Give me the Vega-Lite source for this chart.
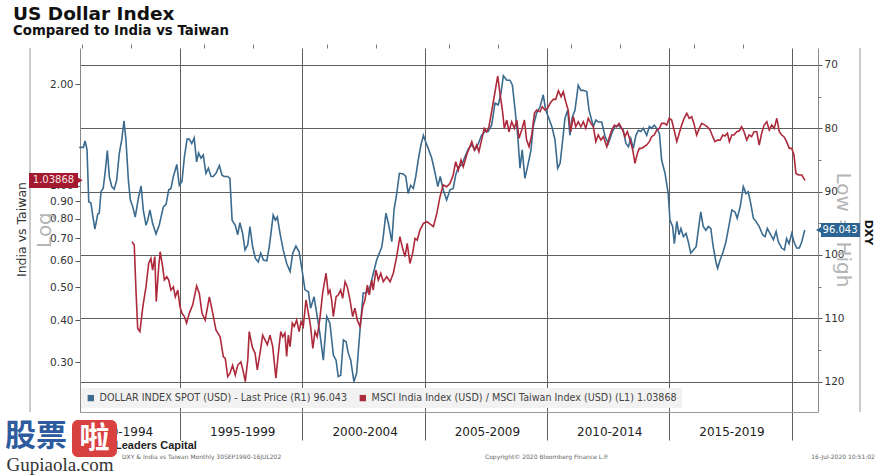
{
  "$schema": "https://vega.github.io/schema/vega-lite/v6.json",
  "width": 738,
  "height": 364,
  "autosize": {"type": "none"},
  "padding": {"left": 80, "top": 48, "right": 72, "bottom": 64},
  "background": "#ffffff",
  "config": {
    "font": "DejaVu Sans",
    "view": {"stroke": null},
    "axis": {"labelFont": "DejaVu Sans", "titleFont": "DejaVu Sans"}
  },
  "title": {
    "text": "US Dollar Index",
    "subtitle": "Compared to India vs Taiwan",
    "anchor": "start",
    "frame": "group",
    "dx": -67,
    "offset": 6,
    "font": "DejaVu Sans",
    "fontSize": 18.5,
    "fontWeight": "bold",
    "color": "#111111",
    "subtitleFont": "DejaVu Sans",
    "subtitleFontSize": 13.3,
    "subtitleFontWeight": "bold",
    "subtitleColor": "#111111",
    "subtitlePadding": 1
  },
  "datasets": {
    "dxy": [
      {"t":1990.88,"dxy":83.0},{"t":1991.05,"dxy":83.0},{"t":1991.12,"dxy":82.0},{"t":1991.20,"dxy":83.4},{"t":1991.27,"dxy":91.6},{"t":1991.36,"dxy":91.8},{"t":1991.43,"dxy":93.7},{"t":1991.52,"dxy":95.9},{"t":1991.64,"dxy":93.5},{"t":1991.70,"dxy":93.4},{"t":1991.77,"dxy":90.0},{"t":1991.86,"dxy":89.5},{"t":1991.95,"dxy":86.6},{"t":1992.03,"dxy":83.5},{"t":1992.11,"dxy":87.6},{"t":1992.21,"dxy":89.2},{"t":1992.31,"dxy":89.6},{"t":1992.41,"dxy":88.2},{"t":1992.52,"dxy":83.9},{"t":1992.62,"dxy":81.8},{"t":1992.71,"dxy":78.8},{"t":1992.79,"dxy":81.8},{"t":1992.89,"dxy":88.2},{"t":1992.97,"dxy":91.3},{"t":1993.07,"dxy":92.4},{"t":1993.17,"dxy":94.0},{"t":1993.31,"dxy":90.8},{"t":1993.41,"dxy":89.1},{"t":1993.50,"dxy":92.9},{"t":1993.61,"dxy":95.3},{"t":1993.68,"dxy":94.5},{"t":1993.77,"dxy":92.9},{"t":1993.88,"dxy":95.0},{"t":1994.02,"dxy":96.7},{"t":1994.15,"dxy":95.3},{"t":1994.32,"dxy":92.4},{"t":1994.43,"dxy":92.0},{"t":1994.54,"dxy":89.7},{"t":1994.63,"dxy":89.5},{"t":1994.73,"dxy":87.6},{"t":1994.87,"dxy":85.7},{"t":1994.97,"dxy":89.0},
      {"t":1995.08,"dxy":88.4},{"t":1995.18,"dxy":84.5},{"t":1995.29,"dxy":81.7},{"t":1995.38,"dxy":81.7},{"t":1995.48,"dxy":82.4},{"t":1995.58,"dxy":81.5},{"t":1995.68,"dxy":85.3},{"t":1995.76,"dxy":83.9},{"t":1995.86,"dxy":84.7},{"t":1995.95,"dxy":84.2},{"t":1996.06,"dxy":87.1},{"t":1996.16,"dxy":86.3},{"t":1996.27,"dxy":87.6},{"t":1996.36,"dxy":87.6},{"t":1996.47,"dxy":87.1},{"t":1996.61,"dxy":85.9},{"t":1996.72,"dxy":87.4},{"t":1996.81,"dxy":87.6},{"t":1996.95,"dxy":87.6},{"t":1997.04,"dxy":87.9},{"t":1997.13,"dxy":94.5},{"t":1997.26,"dxy":95.3},{"t":1997.36,"dxy":96.8},{"t":1997.45,"dxy":94.9},{"t":1997.56,"dxy":96.6},{"t":1997.66,"dxy":99.2},{"t":1997.77,"dxy":98.4},{"t":1997.86,"dxy":95.5},{"t":1997.97,"dxy":98.7},{"t":1998.08,"dxy":100.5},{"t":1998.20,"dxy":101.1},{"t":1998.30,"dxy":99.7},{"t":1998.41,"dxy":100.8},{"t":1998.55,"dxy":100.9},{"t":1998.65,"dxy":98.7},{"t":1998.81,"dxy":93.7},{"t":1998.90,"dxy":94.5},{"t":1998.98,"dxy":94.0},{"t":1999.09,"dxy":96.6},{"t":1999.22,"dxy":99.2},{"t":1999.36,"dxy":101.3},{"t":1999.50,"dxy":102.6},{"t":1999.61,"dxy":99.7},{"t":1999.74,"dxy":98.6},{"t":1999.87,"dxy":99.5},{"t":1999.98,"dxy":102.1},
      {"t":2000.11,"dxy":105.5},{"t":2000.25,"dxy":105.8},{"t":2000.34,"dxy":108.4},{"t":2000.48,"dxy":106.6},{"t":2000.59,"dxy":109.2},{"t":2000.72,"dxy":112.4},{"t":2000.86,"dxy":116.6},{"t":2001.00,"dxy":109.7},{"t":2001.13,"dxy":110.8},{"t":2001.27,"dxy":115.8},{"t":2001.38,"dxy":116.6},{"t":2001.47,"dxy":119.2},{"t":2001.57,"dxy":119.0},{"t":2001.68,"dxy":113.4},{"t":2001.79,"dxy":113.7},{"t":2001.88,"dxy":115.5},{"t":2001.98,"dxy":116.6},{"t":2002.11,"dxy":120.0},{"t":2002.22,"dxy":118.7},{"t":2002.36,"dxy":111.8},{"t":2002.49,"dxy":106.0},{"t":2002.63,"dxy":106.0},{"t":2002.77,"dxy":105.0},{"t":2003.04,"dxy":100.8},{"t":2003.25,"dxy":98.7},{"t":2003.31,"dxy":97.1},{"t":2003.42,"dxy":93.4},{"t":2003.52,"dxy":95.0},{"t":2003.66,"dxy":97.9},{"t":2003.75,"dxy":92.9},{"t":2003.86,"dxy":90.3},{"t":2003.97,"dxy":87.1},{"t":2004.13,"dxy":87.2},{"t":2004.23,"dxy":87.6},{"t":2004.33,"dxy":90.3},{"t":2004.43,"dxy":89.0},{"t":2004.54,"dxy":89.5},{"t":2004.64,"dxy":87.6},{"t":2004.74,"dxy":85.0},{"t":2004.85,"dxy":82.6},{"t":2004.95,"dxy":81.1},
      {"t":2005.05,"dxy":82.2},{"t":2005.15,"dxy":83.2},{"t":2005.29,"dxy":84.7},{"t":2005.43,"dxy":87.1},{"t":2005.54,"dxy":89.2},{"t":2005.64,"dxy":87.6},{"t":2005.76,"dxy":89.7},{"t":2005.90,"dxy":91.3},{"t":2006.04,"dxy":89.7},{"t":2006.17,"dxy":89.5},{"t":2006.27,"dxy":87.4},{"t":2006.38,"dxy":86.1},{"t":2006.52,"dxy":85.8},{"t":2006.65,"dxy":84.5},{"t":2006.79,"dxy":83.2},{"t":2006.93,"dxy":82.6},{"t":2007.06,"dxy":83.4},{"t":2007.20,"dxy":82.4},{"t":2007.33,"dxy":81.1},{"t":2007.47,"dxy":80.5},{"t":2007.60,"dxy":80.5},{"t":2007.74,"dxy":79.5},{"t":2007.88,"dxy":76.0},{"t":2008.01,"dxy":76.3},{"t":2008.12,"dxy":74.5},{"t":2008.22,"dxy":71.7},{"t":2008.36,"dxy":72.4},{"t":2008.49,"dxy":72.4},{"t":2008.59,"dxy":73.2},{"t":2008.70,"dxy":77.1},{"t":2008.81,"dxy":81.3},{"t":2008.90,"dxy":86.3},{"t":2008.99,"dxy":83.4},{"t":2009.10,"dxy":87.9},{"t":2009.24,"dxy":85.5},{"t":2009.35,"dxy":83.4},{"t":2009.44,"dxy":79.7},{"t":2009.58,"dxy":77.6},{"t":2009.72,"dxy":76.6},{"t":2009.85,"dxy":74.7},{"t":2009.95,"dxy":77.1},
      {"t":2010.06,"dxy":78.2},{"t":2010.20,"dxy":79.7},{"t":2010.33,"dxy":81.8},{"t":2010.44,"dxy":86.3},{"t":2010.54,"dxy":85.5},{"t":2010.63,"dxy":82.4},{"t":2010.74,"dxy":78.4},{"t":2010.85,"dxy":77.1},{"t":2010.94,"dxy":81.1},{"t":2011.04,"dxy":78.2},{"t":2011.15,"dxy":77.1},{"t":2011.28,"dxy":73.2},{"t":2011.39,"dxy":74.0},{"t":2011.49,"dxy":74.0},{"t":2011.63,"dxy":74.2},{"t":2011.72,"dxy":77.1},{"t":2011.83,"dxy":78.7},{"t":2011.90,"dxy":79.7},{"t":2012.00,"dxy":78.7},{"t":2012.10,"dxy":79.0},{"t":2012.24,"dxy":79.0},{"t":2012.38,"dxy":81.3},{"t":2012.51,"dxy":82.4},{"t":2012.65,"dxy":80.8},{"t":2012.78,"dxy":79.7},{"t":2012.92,"dxy":79.5},{"t":2013.12,"dxy":80.3},{"t":2013.23,"dxy":82.4},{"t":2013.33,"dxy":82.9},{"t":2013.43,"dxy":81.6},{"t":2013.53,"dxy":83.2},{"t":2013.64,"dxy":81.1},{"t":2013.74,"dxy":80.3},{"t":2013.84,"dxy":80.5},{"t":2013.94,"dxy":80.0},{"t":2014.08,"dxy":81.1},{"t":2014.19,"dxy":79.7},{"t":2014.28,"dxy":80.0},{"t":2014.39,"dxy":79.5},{"t":2014.49,"dxy":80.0},{"t":2014.60,"dxy":80.8},{"t":2014.69,"dxy":85.0},{"t":2014.83,"dxy":87.1},{"t":2014.96,"dxy":90.3},
      {"t":2015.03,"dxy":94.5},{"t":2015.14,"dxy":95.5},{"t":2015.21,"dxy":98.2},{"t":2015.31,"dxy":94.7},{"t":2015.40,"dxy":96.8},{"t":2015.48,"dxy":95.8},{"t":2015.58,"dxy":97.1},{"t":2015.69,"dxy":96.6},{"t":2015.78,"dxy":97.9},{"t":2015.88,"dxy":99.7},{"t":2015.99,"dxy":99.2},{"t":2016.10,"dxy":98.7},{"t":2016.19,"dxy":96.1},{"t":2016.29,"dxy":93.2},{"t":2016.39,"dxy":95.5},{"t":2016.50,"dxy":96.1},{"t":2016.60,"dxy":95.5},{"t":2016.70,"dxy":95.8},{"t":2016.80,"dxy":98.7},{"t":2016.91,"dxy":101.1},{"t":2016.98,"dxy":102.1},{"t":2017.08,"dxy":100.8},{"t":2017.19,"dxy":99.7},{"t":2017.32,"dxy":97.9},{"t":2017.46,"dxy":95.0},{"t":2017.56,"dxy":92.9},{"t":2017.69,"dxy":93.2},{"t":2017.78,"dxy":94.2},{"t":2017.90,"dxy":92.4},{"t":2018.03,"dxy":89.2},{"t":2018.14,"dxy":90.3},{"t":2018.23,"dxy":90.0},{"t":2018.33,"dxy":91.8},{"t":2018.44,"dxy":94.2},{"t":2018.55,"dxy":94.7},{"t":2018.68,"dxy":95.5},{"t":2018.82,"dxy":96.8},{"t":2018.92,"dxy":97.1},{"t":2019.01,"dxy":95.8},{"t":2019.12,"dxy":96.6},{"t":2019.26,"dxy":97.6},{"t":2019.37,"dxy":96.3},{"t":2019.46,"dxy":97.9},{"t":2019.60,"dxy":98.9},{"t":2019.71,"dxy":99.2},{"t":2019.80,"dxy":97.4},{"t":2019.90,"dxy":98.2},{"t":2020.01,"dxy":96.6},{"t":2020.10,"dxy":97.9},{"t":2020.21,"dxy":98.9},{"t":2020.32,"dxy":98.9},{"t":2020.42,"dxy":97.9},{"t":2020.54,"dxy":96.043}
    ],
    "ratio": [
      {"t":1993.04,"ratio":0.683},{"t":1993.13,"ratio":0.668},{"t":1993.20,"ratio":0.491},{"t":1993.27,"ratio":0.378},{"t":1993.36,"ratio":0.370},{"t":1993.48,"ratio":0.438},{"t":1993.61,"ratio":0.502},{"t":1993.72,"ratio":0.589},{"t":1993.81,"ratio":0.610},{"t":1993.88,"ratio":0.563},{"t":1993.97,"ratio":0.617},{"t":1994.03,"ratio":0.454},{"t":1994.13,"ratio":0.576},{"t":1994.19,"ratio":0.638},{"t":1994.29,"ratio":0.576},{"t":1994.36,"ratio":0.526},{"t":1994.46,"ratio":0.538},{"t":1994.54,"ratio":0.526},{"t":1994.63,"ratio":0.491},{"t":1994.73,"ratio":0.502},{"t":1994.81,"ratio":0.469},{"t":1994.91,"ratio":0.491},
      {"t":1995.00,"ratio":0.438},{"t":1995.08,"ratio":0.419},{"t":1995.18,"ratio":0.410},{"t":1995.27,"ratio":0.392},{"t":1995.38,"ratio":0.419},{"t":1995.52,"ratio":0.444},{"t":1995.68,"ratio":0.505},{"t":1995.79,"ratio":0.480},{"t":1995.90,"ratio":0.419},{"t":1996.03,"ratio":0.400},{"t":1996.20,"ratio":0.469},{"t":1996.34,"ratio":0.419},{"t":1996.47,"ratio":0.374},{"t":1996.64,"ratio":0.357},{"t":1996.77,"ratio":0.312},{"t":1996.85,"ratio":0.308},{"t":1996.95,"ratio":0.272},{"t":1997.04,"ratio":0.278},{"t":1997.15,"ratio":0.294},{"t":1997.26,"ratio":0.275},{"t":1997.36,"ratio":0.294},{"t":1997.49,"ratio":0.301},{"t":1997.59,"ratio":0.281},{"t":1997.67,"ratio":0.263},{"t":1997.77,"ratio":0.305},{"t":1997.83,"ratio":0.370},{"t":1997.96,"ratio":0.332},{"t":1998.07,"ratio":0.319},{"t":1998.16,"ratio":0.285},{"t":1998.27,"ratio":0.319},{"t":1998.38,"ratio":0.361},{"t":1998.48,"ratio":0.349},{"t":1998.57,"ratio":0.338},{"t":1998.68,"ratio":0.361},{"t":1998.79,"ratio":0.334},{"t":1998.92,"ratio":0.269},{"t":1999.02,"ratio":0.319},{"t":1999.12,"ratio":0.370},{"t":1999.20,"ratio":0.357},{"t":1999.29,"ratio":0.366},{"t":1999.36,"ratio":0.312},{"t":1999.43,"ratio":0.361},{"t":1999.50,"ratio":0.334},{"t":1999.59,"ratio":0.392},{"t":1999.67,"ratio":0.383},{"t":1999.77,"ratio":0.400},{"t":1999.87,"ratio":0.370},{"t":1999.95,"ratio":0.396},
      {"t":2000.04,"ratio":0.383},{"t":2000.15,"ratio":0.459},{"t":2000.25,"ratio":0.419},{"t":2000.34,"ratio":0.383},{"t":2000.43,"ratio":0.330},{"t":2000.52,"ratio":0.370},{"t":2000.61,"ratio":0.357},{"t":2000.72,"ratio":0.405},{"t":2000.83,"ratio":0.480},{"t":2000.97,"ratio":0.551},{"t":2001.06,"ratio":0.480},{"t":2001.13,"ratio":0.491},{"t":2001.20,"ratio":0.459},{"t":2001.27,"ratio":0.410},{"t":2001.38,"ratio":0.469},{"t":2001.47,"ratio":0.475},{"t":2001.57,"ratio":0.491},{"t":2001.65,"ratio":0.464},{"t":2001.75,"ratio":0.520},{"t":2001.84,"ratio":0.502},{"t":2001.95,"ratio":0.459},{"t":2002.06,"ratio":0.410},{"t":2002.15,"ratio":0.434},{"t":2002.25,"ratio":0.400},{"t":2002.36,"ratio":0.383},{"t":2002.47,"ratio":0.438},{"t":2002.56,"ratio":0.459},{"t":2002.66,"ratio":0.508},{"t":2002.74,"ratio":0.475},{"t":2002.84,"ratio":0.526},{"t":2002.90,"ratio":0.491},{"t":2003.01,"ratio":0.563},{"t":2003.11,"ratio":0.526},{"t":2003.21,"ratio":0.551},{"t":2003.31,"ratio":0.520},{"t":2003.45,"ratio":0.538},{"t":2003.59,"ratio":0.520},{"t":2003.72,"ratio":0.551},{"t":2003.86,"ratio":0.617},{"t":2003.99,"ratio":0.707},{"t":2004.10,"ratio":0.653},{"t":2004.20,"ratio":0.617},{"t":2004.29,"ratio":0.676},{"t":2004.40,"ratio":0.589},{"t":2004.51,"ratio":0.631},{"t":2004.61,"ratio":0.699},{"t":2004.70,"ratio":0.691},{"t":2004.81,"ratio":0.740},{"t":2004.95,"ratio":0.774},
      {"t":2005.09,"ratio":0.783},{"t":2005.19,"ratio":0.774},{"t":2005.36,"ratio":0.757},{"t":2005.50,"ratio":0.829},{"t":2005.63,"ratio":0.929},{"t":2005.76,"ratio":1.006},{"t":2005.90,"ratio":0.994},{"t":2006.04,"ratio":1.018},{"t":2006.17,"ratio":1.077},{"t":2006.27,"ratio":1.179},{"t":2006.38,"ratio":1.114},{"t":2006.49,"ratio":1.193},{"t":2006.58,"ratio":1.140},{"t":2006.72,"ratio":1.235},{"t":2006.82,"ratio":1.292},{"t":2006.93,"ratio":1.352},{"t":2007.03,"ratio":1.277},{"t":2007.13,"ratio":1.322},{"t":2007.22,"ratio":1.262},{"t":2007.33,"ratio":1.367},{"t":2007.44,"ratio":1.481},{"t":2007.54,"ratio":1.447},{"t":2007.63,"ratio":1.497},{"t":2007.74,"ratio":1.659},{"t":2007.88,"ratio":1.901},{"t":2007.99,"ratio":2.117},{"t":2008.08,"ratio":1.881},{"t":2008.18,"ratio":1.678},{"t":2008.26,"ratio":1.481},{"t":2008.36,"ratio":1.567},{"t":2008.45,"ratio":1.447},{"t":2008.56,"ratio":1.549},{"t":2008.67,"ratio":1.481},{"t":2008.77,"ratio":1.567},{"t":2008.86,"ratio":1.384},{"t":2008.97,"ratio":1.464},{"t":2009.08,"ratio":1.567},{"t":2009.17,"ratio":1.367},{"t":2009.27,"ratio":1.306},{"t":2009.38,"ratio":1.415},{"t":2009.49,"ratio":1.641},{"t":2009.58,"ratio":1.678},{"t":2009.72,"ratio":1.659},{"t":2009.81,"ratio":1.716},{"t":2009.92,"ratio":1.678},
      {"t":2010.03,"ratio":1.698},{"t":2010.13,"ratio":1.757},{"t":2010.26,"ratio":1.805},{"t":2010.36,"ratio":1.805},{"t":2010.47,"ratio":1.914},{"t":2010.58,"ratio":1.838},{"t":2010.67,"ratio":1.901},{"t":2010.77,"ratio":1.776},{"t":2010.87,"ratio":1.678},{"t":2010.97,"ratio":1.447},{"t":2011.08,"ratio":1.603},{"t":2011.18,"ratio":1.497},{"t":2011.28,"ratio":1.549},{"t":2011.39,"ratio":1.497},{"t":2011.49,"ratio":1.549},{"t":2011.59,"ratio":1.481},{"t":2011.69,"ratio":1.586},{"t":2011.80,"ratio":1.532},{"t":2011.90,"ratio":1.497},{"t":2012.00,"ratio":1.352},{"t":2012.10,"ratio":1.415},{"t":2012.21,"ratio":1.367},{"t":2012.31,"ratio":1.399},{"t":2012.45,"ratio":1.306},{"t":2012.54,"ratio":1.384},{"t":2012.65,"ratio":1.464},{"t":2012.76,"ratio":1.514},{"t":2012.85,"ratio":1.497},{"t":2012.95,"ratio":1.532},{"t":2013.10,"ratio":1.464},{"t":2013.19,"ratio":1.399},{"t":2013.29,"ratio":1.447},{"t":2013.40,"ratio":1.367},{"t":2013.51,"ratio":1.277},{"t":2013.60,"ratio":1.167},{"t":2013.70,"ratio":1.249},{"t":2013.78,"ratio":1.292},{"t":2013.88,"ratio":1.292},{"t":2013.97,"ratio":1.306},{"t":2014.08,"ratio":1.322},{"t":2014.19,"ratio":1.352},{"t":2014.28,"ratio":1.399},{"t":2014.39,"ratio":1.415},{"t":2014.49,"ratio":1.464},{"t":2014.60,"ratio":1.481},{"t":2014.69,"ratio":1.532},{"t":2014.80,"ratio":1.532},{"t":2014.90,"ratio":1.514},
      {"t":2015.00,"ratio":1.586},{"t":2015.10,"ratio":1.567},{"t":2015.20,"ratio":1.464},{"t":2015.31,"ratio":1.352},{"t":2015.41,"ratio":1.432},{"t":2015.51,"ratio":1.514},{"t":2015.61,"ratio":1.586},{"t":2015.72,"ratio":1.641},{"t":2015.82,"ratio":1.586},{"t":2015.92,"ratio":1.603},{"t":2016.01,"ratio":1.532},{"t":2016.12,"ratio":1.415},{"t":2016.23,"ratio":1.481},{"t":2016.33,"ratio":1.532},{"t":2016.46,"ratio":1.514},{"t":2016.56,"ratio":1.497},{"t":2016.67,"ratio":1.464},{"t":2016.78,"ratio":1.399},{"t":2016.87,"ratio":1.352},{"t":2016.98,"ratio":1.367},{"t":2017.08,"ratio":1.367},{"t":2017.19,"ratio":1.415},{"t":2017.28,"ratio":1.405},{"t":2017.38,"ratio":1.432},{"t":2017.46,"ratio":1.352},{"t":2017.56,"ratio":1.415},{"t":2017.65,"ratio":1.415},{"t":2017.76,"ratio":1.447},{"t":2017.87,"ratio":1.457},{"t":2017.96,"ratio":1.497},{"t":2018.06,"ratio":1.447},{"t":2018.17,"ratio":1.367},{"t":2018.27,"ratio":1.415},{"t":2018.37,"ratio":1.399},{"t":2018.47,"ratio":1.447},{"t":2018.58,"ratio":1.447},{"t":2018.68,"ratio":1.322},{"t":2018.78,"ratio":1.432},{"t":2018.88,"ratio":1.514},{"t":2018.99,"ratio":1.549},{"t":2019.09,"ratio":1.464},{"t":2019.19,"ratio":1.514},{"t":2019.29,"ratio":1.481},{"t":2019.40,"ratio":1.586},{"t":2019.50,"ratio":1.447},{"t":2019.60,"ratio":1.415},{"t":2019.69,"ratio":1.399},{"t":2019.80,"ratio":1.352},{"t":2019.91,"ratio":1.292},{"t":2020.01,"ratio":1.292},{"t":2020.10,"ratio":1.235},{"t":2020.18,"ratio":1.090},{"t":2020.28,"ratio":1.077},{"t":2020.42,"ratio":1.077},{"t":2020.55,"ratio":1.03868}
    ]
  },
  "layer": [
    {
      "layer": [
        {
          "data": {"name": "dxy"},
          "mark": {"type": "line", "strokeWidth": 1.6},
          "encoding": {
            "x": {
              "field": "t", "type": "quantitative",
              "scale": {"domain": [1990.912, 2021.083], "nice": false, "zero": false},
              "axis": {
                "values": [1995, 2000, 2005, 2010, 2015, 2020],
                "grid": true, "gridColor": "#5f5f5f", "gridWidth": 1,
                "tickSize": 28, "tickColor": "#5f5f5f", "tickWidth": 1,
                "domainColor": "#9a9a9a",
                "labelExpr": "(datum.value - 5) + '-' + (datum.value - 1)",
                "labelOffset": -60, "labelPadding": -14,
                "labelFontSize": 12, "labelColor": "#222222",
                "labelOverlap": false, "labelFlush": false, "labelBound": false,
                "title": null
              }
            },
            "y": {
              "field": "dxy", "type": "quantitative",
              "scale": {"domain": [67.316, 124.79], "reverse": true, "nice": false, "zero": false},
              "axis": {
                "orient": "right",
                "values": [70, 80, 90, 100, 110, 120],
                "grid": true, "gridColor": "#5f5f5f", "gridWidth": 1,
                "tickSize": 4, "tickColor": "#555555",
                "domainColor": "#8a8a8a",
                "labelFontSize": 10.5, "labelColor": "#333333", "labelPadding": 2,
                "title": "DXY", "titleAngle": 90, "titleX": 49, "titleY": 184,
                "titleFontSize": 11, "titleFontWeight": "bold", "titleColor": "#111111",
                "titleBaseline": "middle", "titleAlign": "center"
              }
            },
            "color": {
              "datum": "DOLLAR INDEX SPOT (USD) - Last Price (R1) 96.043",
              "scale": {
                "domain": ["DOLLAR INDEX SPOT (USD) - Last Price (R1) 96.043", "MSCI India Index (USD) / MSCI Taiwan Index (USD) (L1) 1.03868"],
                "range": ["#3b6b8f", "#ad2a3c"]
              },
              "legend": {
                "orient": "none", "legendX": 1, "legendY": 340, "direction": "horizontal",
                "title": null, "symbolType": "square", "symbolSize": 40,
                "labelFontSize": 9.6, "labelColor": "#444444", "labelFont": "DejaVu Sans",
                "labelLimit": 600, "fillColor": "#f2f2f2", "padding": 5,
                "columnPadding": 10, "labelOffset": 4,
                "encode": {"symbols": {"update": {"fill": {"scale": "color", "field": "value"}, "strokeWidth": {"value": 0}}}}
              }
            }
          }
        },
        {
          "data": {"values": [{}]},
          "mark": {"type": "rule", "color": "#9a9a9a", "strokeWidth": 1},
          "encoding": {"x": {"datum": 1988.868}}
        },
        {
          "data": {"values": [{}]},
          "mark": {"type": "rule", "color": "#9a9a9a", "strokeWidth": 1},
          "encoding": {"x": {"datum": 2022.80}}
        },
        {
          "data": {"values": [{}]},
          "mark": {"type": "text", "text": "Low = High", "angle": 90, "fontSize": 20, "color": "#b5b5b5", "align": "center", "baseline": "middle"},
          "encoding": {"x": {"datum": 2022.105}, "y": {"datum": 96.05}}
        },
        {
          "data": {"values": [{}]},
          "mark": {"type": "rect", "color": "#2c6593"},
          "encoding": {"x": {"datum": 2021.206}, "x2": {"datum": 2022.80}, "y": {"datum": 94.95}, "y2": {"datum": 97.16}}
        },
        {
          "data": {"values": [{}]},
          "mark": {"type": "point", "shape": "triangle-left", "filled": true, "size": 70, "color": "#2c6593", "opacity": 1},
          "encoding": {"x": {"datum": 2021.145}, "y": {"datum": 96.043}}
        },
        {
          "data": {"values": [{}]},
          "mark": {"type": "text", "text": "96.043", "fontSize": 10, "color": "#ffffff", "align": "center", "baseline": "middle"},
          "encoding": {"x": {"datum": 2021.983}, "y": {"datum": 96.043}}
        }
      ]
    },
    {
      "layer": [
        {
          "data": {"name": "ratio"},
          "mark": {"type": "line", "strokeWidth": 1.6},
          "encoding": {
            "x": {"field": "t", "type": "quantitative", "axis": null},
            "y": {
              "field": "ratio", "type": "quantitative",
              "scale": {"type": "log", "domain": [0.21372, 2.5625], "nice": false},
              "axis": {
                "orient": "left",
                "values": [0.3, 0.4, 0.5, 0.6, 0.7, 0.8, 0.9, 1, 2],
                "format": ".2f", "grid": false,
                "tickSize": 5, "tickColor": "#555555", "domainColor": "#8a8a8a",
                "labelFontSize": 10.5, "labelColor": "#333333", "labelPadding": 2,
                "title": "India vs Taiwan", "titleX": -59, "titleY": 181, "titleAngle": 270,
                "titleFontSize": 12.5, "titleFontWeight": "normal", "titleColor": "#333333",
                "titleBaseline": "middle", "titleAlign": "center"
              }
            },
            "color": {"datum": "MSCI India Index (USD) / MSCI Taiwan Index (USD) (L1) 1.03868"}
          }
        },
        {
          "data": {"values": [{}]},
          "mark": {"type": "text", "text": "Log", "angle": 270, "fontSize": 20, "color": "#b5b5b5", "align": "center", "baseline": "middle"},
          "encoding": {"x": {"datum": 1989.48}, "y": {"datum": 0.7398}}
        },
        {
          "data": {"values": [{}]},
          "mark": {"type": "rect", "color": "#a3192d"},
          "encoding": {"x": {"datum": 1988.827}, "x2": {"datum": 1990.83}, "y": {"datum": 1.0918}, "y2": {"datum": 0.9856}}
        },
        {
          "data": {"values": [{}]},
          "mark": {"type": "point", "shape": "triangle-right", "filled": true, "size": 70, "color": "#a3192d", "opacity": 1},
          "encoding": {"x": {"datum": 1990.871}, "y": {"datum": 1.03868}}
        },
        {
          "data": {"values": [{}]},
          "mark": {"type": "text", "text": "1.03868", "fontSize": 10, "color": "#fbe3e6", "align": "center", "baseline": "middle"},
          "encoding": {"x": {"datum": 1989.828}, "y": {"datum": 1.03868}}
        }
      ]
    },
    {
      "layer": [
        {
          "data": {"values": [{}]},
          "mark": {"type": "text", "text": "Leaders Capital", "font": "Liberation Sans", "fontWeight": "bold", "fontSize": 11, "color": "#222222", "align": "left", "baseline": "middle"},
          "encoding": {
            "x": {
              "datum": 1992.343, "type": "quantitative",
              "axis": {"values": [1991,1992,1993,1994,1996,1997,1998,1999,2001,2002,2003,2004,2006,2007,2008,2009,2011,2012,2013,2014,2016,2017,2018,2019], "tickSize": 4, "tickColor": "#777777", "labels": false, "domain": false, "grid": false, "title": null}
            },
            "y": {
              "datum": 130.16, "type": "quantitative",
              "scale": {"domain": [67.316, 124.79], "reverse": true, "nice": false, "zero": false},
              "axis": {"orient": "right", "values": [75, 85, 95, 105, 115], "tickSize": 3, "tickColor": "#777777", "labels": false, "domain": false, "grid": false, "title": null}
            }
          }
        },
        {
          "data": {"values": [{}]},
          "mark": {"type": "text", "text": "DXY & India vs Taiwan  Monthly 30SEP1990-16JUL202", "fontSize": 6, "color": "#666666", "align": "left", "baseline": "middle"},
          "encoding": {"x": {"datum": 1992.629}, "y": {"datum": 131.95}}
        },
        {
          "data": {"values": [{}]},
          "mark": {"type": "text", "text": "Copyright© 2020 Bloomberg Finance L.P.", "fontSize": 6, "color": "#666666", "align": "left", "baseline": "middle"},
          "encoding": {"x": {"datum": 2007.469}, "y": {"datum": 131.95}}
        },
        {
          "data": {"values": [{}]},
          "mark": {"type": "text", "text": "16-Jul-2020 10:51:02", "fontSize": 6, "color": "#666666", "align": "right", "baseline": "middle"},
          "encoding": {"x": {"datum": 2023.41}, "y": {"datum": 131.95}}
        },
        {
          "data": {"values": [{}]},
          "mark": {"type": "text", "text": "股票", "font": "Noto Sans CJK SC", "fontWeight": "bold", "fontSize": 31, "color": "#2d5b9e", "align": "left", "baseline": "middle"},
          "encoding": {"x": {"datum": 1987.845}, "y": {"datum": 128.74}}
        },
        {
          "data": {"values": [{}]},
          "mark": {"type": "rect", "color": "#d94040", "cornerRadius": 6},
          "encoding": {"x": {"datum": 1990.585}, "x2": {"datum": 1992.425}, "y": {"datum": 126.05}, "y2": {"datum": 131.90}}
        },
        {
          "data": {"values": [{}]},
          "mark": {"type": "text", "text": "啦", "font": "Noto Sans CJK SC", "fontWeight": "bold", "fontSize": 30, "color": "#ffffff", "align": "center", "baseline": "middle"},
          "encoding": {"x": {"datum": 1991.504}, "y": {"datum": 128.98}}
        },
        {
          "data": {"values": [{}]},
          "mark": {"type": "text", "text": "Gupiaola.com", "font": "Liberation Serif", "fontSize": 19, "color": "#333333", "align": "center", "baseline": "middle"},
          "encoding": {"x": {"datum": 1990.094}, "y": {"datum": 133.16}}
        }
      ]
    }
  ],
  "resolve": {"scale": {"y": "independent"}, "axis": {"x": "independent"}}
}
